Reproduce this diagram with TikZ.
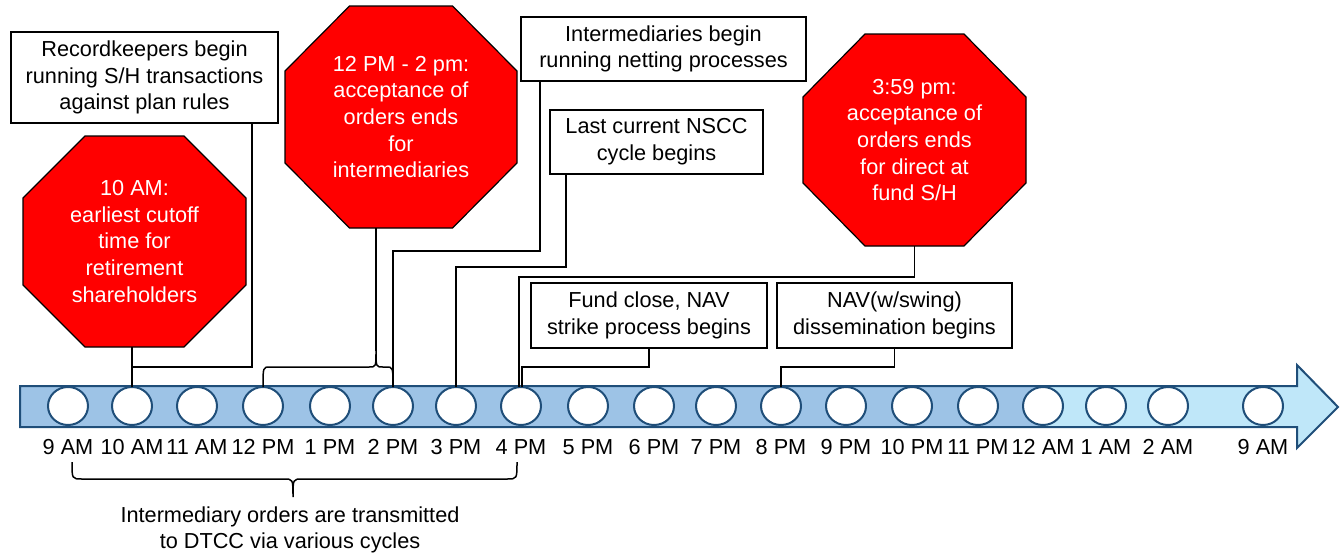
\documentclass[tikz,border=0pt]{standalone}
\usepackage{fontspec}
\setmainfont{Liberation Sans}
\usetikzlibrary{shapes.geometric,backgrounds,calc}
\definecolor{barDark}{HTML}{9DC3E6}
\definecolor{barLight}{HTML}{BFE7F9}
\definecolor{barLine}{HTML}{1F4E79}
\definecolor{stopRed}{HTML}{FF0000}
\tikzset{
  every node/.style={font=\fontsize{21.7}{26.7}\selectfont},
  box/.style={draw=black, line width=1.5pt, fill=white, align=center, inner sep=0pt, outer sep=0pt},
  octtext/.style={text=white, align=center, inner sep=0pt, outer sep=0pt},
  octline/.style={draw=black, line width=1.2pt, fill=stopRed},
  tick/.style={draw=barLine, line width=2pt, fill=white, ellipse, minimum width=40pt, minimum height=38pt, inner sep=0pt, outer sep=0pt},
  tlabel/.style={anchor=base, inner sep=0pt},
  conn/.style={draw=black, line width=1.5pt},
}
\newcommand\octpath[3]{%
  \begin{scope}[on background layer]
  \draw[octline] ([xshift=#2]#1.north west) -- ([xshift=-#2]#1.north east) -- ([yshift=-#3]#1.north east) -- ([yshift=#3]#1.south east) -- ([xshift=-#2]#1.south east) -- ([xshift=#2]#1.south west) -- ([yshift=#3]#1.south west) -- ([yshift=-#3]#1.north west) -- cycle;
  \end{scope}}
\begin{document}
\begin{tikzpicture}[x=1pt,y=-1pt]
\useasboundingbox (0,0) rectangle (1344,557);

% timeline arrow
\begin{scope}[on background layer]
  \fill[barLight] (20,386) -- (1297,386) -- (1297,365) -- (1338,407) -- (1297,448) -- (1297,427) -- (20,427) -- cycle;
  \fill[barDark] (20,386) rectangle (1043,427);
  \draw[barLine, line width=2pt, line join=miter] (20,386) -- (1297,386) -- (1297,365) -- (1338,407) -- (1297,448) -- (1297,427) -- (20,427) -- cycle;
\end{scope}

% ticks and labels
\foreach \x/\lab [count=\i] in {68/9 AM,132/10 AM,197/11 AM,263/12 PM,330/1 PM,393/2 PM,456/3 PM,521/4 PM,588/5 PM,654/6 PM,716/7 PM,781/8 PM,846/9 PM,912/10 PM,978/11 PM,1043/12 AM,1106/1 AM,1168/2 AM,1263/9 AM}{
  \node[tick] (t\i) at (\x,406) {};
  \node[tlabel] (l\i) at (\x,454) {\lab};
}

% octagons
\node[octtext, minimum width=223pt, minimum height=211pt] (o1) at (134.5,241.5) {10 AM:\\earliest cutoff\\time for\\retirement\\shareholders};
\octpath{o1}{62pt}{62pt}
\node[octtext, minimum width=232pt, minimum height=222pt] (o2) at (401,117) {12 PM - 2 pm:\\acceptance of\\orders ends\\for\\intermediaries};
\octpath{o2}{64.5pt}{65pt}
\node[octtext, minimum width=223pt, minimum height=212pt] (o3) at (914.5,140) {3:59 pm:\\acceptance of\\orders ends\\for direct at\\fund S/H};
\octpath{o3}{62pt}{63pt}

% boxes
\node[box, minimum width=267pt, minimum height=91pt] (rk) at (144.5,77.5) {Recordkeepers begin\\running S/H transactions\\against plan rules};
\node[box, minimum width=285pt, minimum height=64pt] (im) at (663.5,49) {Intermediaries begin\\running netting processes};
\node[box, minimum width=213pt, minimum height=64pt] (nscc) at (656.5,142) {Last current NSCC\\cycle begins};
\node[box, minimum width=236pt, minimum height=65pt] (fc) at (649,315.5) {Fund close, NAV\\strike process begins};
\node[box, minimum width=235pt, minimum height=65pt] (nav) at (894.5,315.5) {NAV(w/swing)\\dissemination begins};

% junction levels
\coordinate (yA) at (0,367);
\coordinate (yB) at (0,251);
\coordinate (yC) at (0,267);
\coordinate (yD) at (0,277);
\coordinate (tip2) at (376,351);

% connectors
\draw[conn] (t2.north) -- (t2.north |- o1.south);
\draw[conn] ([xshift=-26pt]rk.south east) |- (t2.north |- yA);
\draw[conn] ([xshift=-25pt]o2.south) -- (tip2);
\draw[conn] (t4.north) .. controls (263,367) .. (270,367) -- (369,367) .. controls (376,367) .. (tip2) .. controls (376,367) .. (383,367) -- (386,367) .. controls (393,367) .. (t6.north);
\draw[conn] ([xshift=19pt]im.south west) |- (t6.north |- yB) -- (t6.north);
\draw[conn] ([xshift=16pt]nscc.south west) |- (t7.north |- yC) -- (t7.north);
\draw[conn] (o3.south) |- ([xshift=-2pt]t8.north |- yD) -- ([xshift=-2pt]t8.north);
\draw[conn] (fc.south) |- ([xshift=1pt]t8.north |- yA) -- ([xshift=1pt]t8.north);
\draw[conn] (nav.south) |- (t12.north |- yA) -- (t12.north);

% bottom brace
\coordinate (bL) at (72,462);
\coordinate (bR) at (517,462);
\coordinate (btip) at (293,497);
\draw[conn] (bL) .. controls (72,479) .. (82,479) -- (284,479) .. controls (293,479) .. (btip) .. controls (293,479) .. (302,479) -- (507,479) .. controls (517,479) .. (bR);
\node[align=center, inner sep=0pt] (note) at (290,530) {Intermediary orders are transmitted\\to DTCC via various cycles};
\end{tikzpicture}
\end{document}
